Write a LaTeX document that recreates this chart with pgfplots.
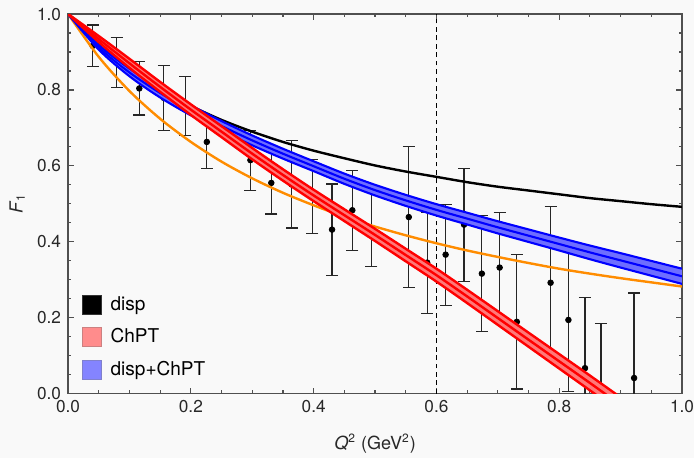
\documentclass[border=0pt]{standalone}
\usepackage{fontspec}
\setmainfont{TeX Gyre Heros}
\usepackage{pgfplots}
\usepackage{pgfplotstable}
\pgfplotsset{compat=1.18}

\definecolor{bg}{RGB}{249,249,249}
\definecolor{framegray}{RGB}{80,80,80}
\definecolor{ticktext}{RGB}{40,40,40}
\definecolor{chptline}{RGB}{255,0,0}
\definecolor{chptfill}{RGB}{255,120,120}
\definecolor{combline}{RGB}{0,0,255}
\definecolor{combfill}{RGB}{110,110,255}
\definecolor{dipole}{RGB}{255,140,0}

% dispersive result and dipole-type curve
\pgfplotstableread{
x     disp   orange
0.00  1.000  1.000
0.05  0.918  0.887
0.10  0.854  0.797
0.15  0.801  0.724
0.20  0.758  0.663
0.25  0.721  0.611
0.30  0.690  0.567
0.35  0.663  0.529
0.40  0.640  0.496
0.45  0.620  0.466
0.50  0.601  0.440
0.55  0.585  0.417
0.60  0.571  0.396
0.65  0.557  0.377
0.70  0.545  0.360
0.75  0.535  0.344
0.80  0.525  0.329
0.85  0.515  0.316
0.90  0.507  0.304
0.95  0.499  0.293
1.00  0.492  0.282
}\curves

% ChPT band: central value, lower and upper edge
\pgfplotstableread{
x     c       lo      hi
0.00  1.000   1.000   1.000
0.05  0.934   0.926   0.942
0.10  0.870   0.858   0.882
0.15  0.808   0.795   0.821
0.20  0.748   0.734   0.762
0.25  0.690   0.6755  0.7045
0.30  0.632   0.617   0.647
0.35  0.576   0.561   0.591
0.40  0.522   0.507   0.537
0.45  0.470   0.4545  0.4855
0.50  0.418   0.402   0.434
0.55  0.365   0.3485  0.3815
0.60  0.312   0.295   0.329
0.65  0.256   0.2385  0.2735
0.70  0.199   0.181   0.217
0.75  0.142   0.1235  0.1605
0.80  0.085   0.066   0.104
0.85  0.028   0.0085  0.0475
0.90  -0.030  -0.050  -0.010
0.95  -0.088  -0.1085 -0.0675
1.00  -0.146  -0.167  -0.125
}\chpt

% outline of the ChPT band (upper edge out, lower edge back)
\pgfplotstableread{
x     y
0.00  1.000
0.05  0.942
0.10  0.882
0.15  0.821
0.20  0.762
0.25  0.7045
0.30  0.647
0.35  0.591
0.40  0.537
0.45  0.4855
0.50  0.434
0.55  0.3815
0.60  0.329
0.65  0.2735
0.70  0.217
0.75  0.1605
0.80  0.104
0.85  0.0475
0.90  -0.010
0.95  -0.0675
1.00  -0.125
1.00  -0.167
0.95  -0.1085
0.90  -0.050
0.85  0.0085
0.80  0.066
0.75  0.1235
0.70  0.181
0.65  0.2385
0.60  0.295
0.55  0.3485
0.50  0.402
0.45  0.4545
0.40  0.507
0.35  0.561
0.30  0.617
0.25  0.6755
0.20  0.734
0.15  0.795
0.10  0.858
0.05  0.926
0.00  1.000
}\chptarea

% disp+ChPT band
\pgfplotstableread{
x     c      lo      hi
0.00  1.000  1.000   1.000
0.05  0.912  0.906   0.918
0.10  0.846  0.836   0.856
0.15  0.792  0.780   0.804
0.20  0.746  0.733   0.759
0.25  0.705  0.692   0.718
0.30  0.667  0.654   0.680
0.35  0.632  0.619   0.645
0.40  0.599  0.586   0.612
0.45  0.566  0.5525  0.5795
0.50  0.536  0.522   0.550
0.55  0.509  0.4945  0.5235
0.60  0.484  0.469   0.499
0.65  0.461  0.4455  0.4765
0.70  0.438  0.422   0.454
0.75  0.416  0.3995  0.4325
0.80  0.394  0.377   0.411
0.85  0.372  0.354   0.390
0.90  0.351  0.332   0.370
0.95  0.330  0.3105  0.3495
1.00  0.309  0.289   0.329
}\comb

% outline of the disp+ChPT band
\pgfplotstableread{
x     y
0.00  1.000
0.05  0.918
0.10  0.856
0.15  0.804
0.20  0.759
0.25  0.718
0.30  0.680
0.35  0.645
0.40  0.612
0.45  0.5795
0.50  0.550
0.55  0.5235
0.60  0.499
0.65  0.4765
0.70  0.454
0.75  0.4325
0.80  0.411
0.85  0.390
0.90  0.370
0.95  0.3495
1.00  0.329
1.00  0.289
0.95  0.3105
0.90  0.332
0.85  0.354
0.80  0.377
0.75  0.3995
0.70  0.422
0.65  0.4455
0.60  0.469
0.55  0.4945
0.50  0.522
0.45  0.5525
0.40  0.586
0.35  0.619
0.30  0.654
0.25  0.692
0.20  0.733
0.15  0.780
0.10  0.836
0.05  0.906
0.00  1.000
}\combarea

% measured form factor with uncertainties
\pgfplotstableread{
x      y       e
0.040  0.916   0.055
0.079  0.872   0.066
0.116  0.804   0.070
0.156  0.779   0.085
0.191  0.757   0.078
0.226  0.663   0.070
0.297  0.615   0.079
0.331  0.555   0.082
0.364  0.551   0.115
0.398  0.519   0.098
0.430  0.432   0.120
0.463  0.483   0.105
0.494  0.436   0.102
0.555  0.465   0.185
0.585  0.345   0.133
0.615  0.366   0.133
0.645  0.445   0.149
0.674  0.316   0.153
0.703  0.332   0.146
0.731  0.189   0.177
0.786  0.292   0.200
0.815  0.194   0.189
0.842  0.067   0.186
0.868  -0.030  0.215
0.922  0.041   0.224
}\data

\begin{document}
\begin{tikzpicture}
\fill[bg] (-34pt,-32pt) rectangle (312.5pt,196.5pt);
\begin{axis}[
  at={(0,0)}, anchor=south west,
  scale only axis, width=306.5pt, height=189.5pt,
  xmin=0, xmax=1, ymin=0, ymax=1,
  xtick={0,0.2,...,1.0}, ytick={0,0.2,...,1.0},
  minor x tick num=3, minor y tick num=3,
  major tick length=3pt, minor tick length=1.6pt,
  axis line style={framegray, line width=0.75pt},
  every tick/.style={framegray, line width=0.6pt},
  /pgf/number format/assume math mode=true,
  xticklabel style={/pgf/number format/.cd, fixed, fixed zerofill, precision=1},
  yticklabel style={/pgf/number format/.cd, fixed, fixed zerofill, precision=1},
  tick label style={font=\fontsize{8.6}{10}\selectfont, color=ticktext},
  xlabel={\textit{Q}\textsuperscript{2} (GeV\textsuperscript{2})},
  ylabel={\textit{F}\textsubscript{1}},
  label style={font=\fontsize{9}{10}\selectfont, color=ticktext},
  xlabel style={at={(axis description cs:0.5,-0.132)}, anchor=center},
  ylabel style={at={(axis description cs:-0.083,0.5)}, anchor=center},
  clip marker paths=true,
  legend style={at={(axis description cs:0.022,0.262)}, anchor=north west,
    draw=none, fill=none, inner sep=0pt, row sep=5.6pt,
    font=\fontsize{9.5}{11}\selectfont,
    nodes={inner sep=1pt},
    /tikz/every odd column/.append style={column sep=3.5pt}},
  legend cell align=left,
]
% data
\addplot[forget plot, only marks, mark=*, mark size=1.4pt, black,
  error bars/.cd, y dir=both, y explicit,
  error bar style={black!85, line width=0.6pt},
  error mark options={rotate=90, mark size=3pt, black!85, line width=0.6pt}]
  table[x=x, y=y, y error=e]{\data};

% vertical marker
\addplot[forget plot, black, line width=0.45pt, dash pattern=on 2.4pt off 1.8pt]
  coordinates {(0.6,0) (0.6,1)};

% dispersive curve and dipole curve
\addplot[forget plot, black, line width=1.2pt, smooth] table[x=x, y=disp]{\curves};
\addplot[forget plot, dipole, line width=1.2pt, smooth] table[x=x, y=orange]{\curves};

% disp+ChPT band
\addplot[forget plot, draw=none, fill=combfill] table[x=x, y=y]{\combarea};
\addplot[forget plot, combline, line width=1.05pt, smooth] table[x=x, y=lo]{\comb};
\addplot[forget plot, combline, line width=1.05pt, smooth] table[x=x, y=hi]{\comb};
\addplot[forget plot, combline, line width=1.05pt, smooth] table[x=x, y=c]{\comb};

% ChPT band
\addplot[forget plot, draw=none, fill=chptfill] table[x=x, y=y]{\chptarea};
\addplot[forget plot, chptline, line width=1.2pt, smooth] table[x=x, y=lo]{\chpt};
\addplot[forget plot, chptline, line width=1.2pt, smooth] table[x=x, y=hi]{\chpt};
\addplot[forget plot, chptline, line width=1.2pt, smooth] table[x=x, y=c]{\chpt};

% legend
\addlegendimage{legend image code/.code={\draw[fill=black, draw=black!80] (0pt,-4.7pt) rectangle (9.4pt,4.7pt);}}
\addlegendentry{disp}
\addlegendimage{legend image code/.code={\draw[fill=chptfill!85!white, draw=chptline!60!black!50] (0pt,-4.7pt) rectangle (9.4pt,4.7pt);}}
\addlegendentry{ChPT}
\addlegendimage{legend image code/.code={\draw[fill=combfill!85!white, draw=combline!60!black!50] (0pt,-4.7pt) rectangle (9.4pt,4.7pt);}}
\addlegendentry{disp+ChPT}
\end{axis}
\pgfresetboundingbox
\path (-34pt,-32pt) rectangle (312.5pt,196.5pt);
\end{tikzpicture}
\end{document}
